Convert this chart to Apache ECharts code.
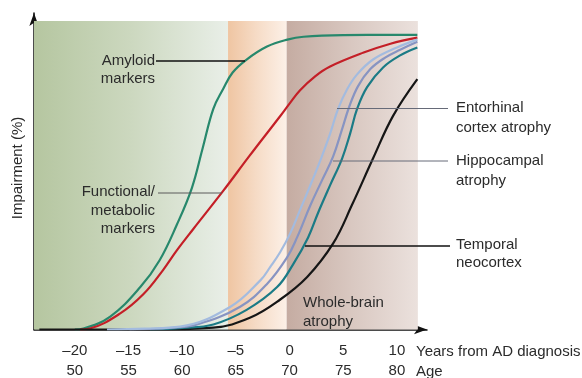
<!DOCTYPE html>
<html>
<head>
<meta charset="utf-8">
<script src="https://cdn.jsdelivr.net/npm/echarts@6.0.0/dist/echarts.min.js"></script>
<style>
  html, body { margin: 0; padding: 0; background: #fff; }
  #chart { width: 582px; height: 378px; }
</style>
</head>
<body>
<div id="chart"></div>
<script>
// years from AD diagnosis, impairment (%)
const amyloid = [[-20, 0], [-19.2, 0.3], [-16.7, 4.1], [-13.9, 13.4], [-12.1, 21.9], [-10.5, 33.1],
  [-9.1, 44.7], [-8.1, 57.2], [-7.1, 69.7], [-6.2, 75.9], [-5.3, 81.2], [-4.0, 85.3],
  [-2.1, 89.4], [-0.2, 91.6], [1.3, 92.5], [5, 93.0], [11.9, 93.1]];
const functional = [[-19.5, 0], [-18.6, 0.3], [-15.8, 5.0], [-13.6, 11.2], [-11.8, 18.7], [-10.5, 25],
  [-9.0, 31.6], [-6.2, 43.7], [-3.7, 55], [-0.9, 67.3], [0.05, 71.6], [0.98, 75.6], [2.38, 80.0],
  [3.78, 83.1], [6.9, 87.5], [9.4, 90.3], [11.9, 92.2]];
const entorhinal = [[-17, 0], [-13.5, 0.3], [-10.2, 0.9], [-5.5, 7.2], [-2.7, 15.6], [-1.81, 19.7],
  [-0.88, 24.4], [0.05, 30.3], [0.98, 37.8], [2.01, 46.2], [2.94, 54.1], [3.78, 61.9],
  [4.52, 69.7], [5.36, 75.9], [6.29, 80.6], [7.78, 85.3], [10.0, 89.1], [11.9, 91.6]];
const hippocampal = [[-14.9, 0], [-11.5, 0.4], [-8.6, 1.6], [-4.6, 7.2], [-2.1, 14.4], [-0.23, 22.8],
  [0.7, 29.1], [1.92, 39.1], [3.03, 47.2], [4.06, 54.7], [4.9, 63.4], [5.55, 70.3],
  [6.38, 76.9], [7.5, 82.2], [8.9, 85.9], [10.3, 88.4], [11.9, 90.9]];
const temporal = [[-13, 0], [-10, 0.5], [-7.1, 1.6], [-4.0, 6.2], [-1.16, 13.4], [0.33, 20.6],
  [1.73, 29.1], [2.66, 36.9], [3.78, 45.6], [4.9, 54.1], [5.64, 61.9], [6.29, 69.7],
  [7.22, 76.6], [8.71, 82.8], [10.3, 86.6], [11.9, 89.1]];
const wholeBrain = [[-23.3, 0], [-13, 0], [-7.1, 0.6], [-3.7, 3.7], [-0.9, 9.4], [1.64, 16.6],
  [4.06, 27.2], [5.82, 39.4], [7.78, 54.1], [9.64, 67.5], [11.9, 79.1]];

const yearTicks = [-20, -15, -10, -5, 0, 5, 10];
const ageTicks = [50, 55, 60, 65, 70, 75, 80];
// shaded stages: preclinical, MCI, dementia
const stageBounds = [-23.8, -5.73, -0.27, 11.95];

const FAMILY = '"Liberation Sans", Arial, sans-serif';
const FONT = '15px ' + FAMILY;
const INK = '#2b2b2b';

function grad(stops) {
  return new echarts.graphic.LinearGradient(0, 0, 1, 0,
    stops.map((c, i) => ({ offset: i / (stops.length - 1), color: c })));
}
function txt(x, y, s, align) {
  return { type: 'text', x: x, y: y, z: 100,
    style: { text: s, fill: INK, font: FONT, textAlign: align || 'left', textVerticalAlign: 'middle' } };
}
function ln(x1, y1, x2, y2, color, w) {
  return { type: 'line', z: 100, shape: { x1: x1, y1: y1, x2: x2, y2: y2 },
    style: { stroke: color, lineWidth: w } };
}
function curve(name, data, color) {
  return { name: name, type: 'line', data: data, showSymbol: false, symbol: 'none',
    smooth: 0.4, z: 3,
    lineStyle: { color: color, width: 2.2 } };
}

const chart = echarts.init(document.getElementById('chart'));
chart.setOption({
  animation: false,
  grid: { left: 34, right: 155, top: 13, bottom: 45 },
  xAxis: {
    type: 'value', min: -23.8, max: 12.8,
    splitLine: { show: false },
    axisTick: { show: false },
    axisLine: { onZero: false, symbol: ['none', 'arrow'], symbolSize: [7, 13],
      lineStyle: { color: '#111', width: 1.5 } },
    axisLabel: {
      customValues: yearTicks, margin: 11,
      formatter: function (v) {
        const i = yearTicks.indexOf(v);
        return '{a|' + String(v).replace('-', '–') + '}\n{a|' + ageTicks[i] + '}';
      },
      rich: { a: { fontSize: 15, fontFamily: FAMILY, color: INK, lineHeight: 20 } }
    }
  },
  yAxis: {
    type: 'value', min: 0, max: 100,
    splitLine: { show: false },
    axisTick: { show: false },
    axisLabel: { show: false },
    axisLine: { show: true, onZero: false, symbol: ['none', 'arrow'], symbolSize: [7, 13],
      lineStyle: { color: '#111', width: 1.5 } }
  },
  series: [
    { type: 'line', data: [], z: 1, silent: true,
      markArea: {
        silent: true,
        data: [
          [{ xAxis: stageBounds[0], yAxis: 0, itemStyle: { color: grad(['#b5c6a0', '#ccd8bf', '#e9efe8']) } },
           { xAxis: stageBounds[1], yAxis: 97.5 }],
          [{ xAxis: stageBounds[1], yAxis: 0, itemStyle: { color: grad(['#efc5a2', '#f6dcc7', '#fcf0e7']) } },
           { xAxis: stageBounds[2], yAxis: 97.5 }],
          [{ xAxis: stageBounds[2], yAxis: 0, itemStyle: { color: grad(['#c5aca2', '#d9c8c1', '#ebe1dd']) } },
           { xAxis: stageBounds[3], yAxis: 97.5 }]
        ]
      }
    },
    curve('Amyloid markers', amyloid, '#27886c'),
    curve('Functional/metabolic markers', functional, '#c41f27'),
    curve('Whole-brain atrophy', wholeBrain, '#161616'),
    curve('Temporal neocortex', temporal, '#1b7b86'),
    curve('Hippocampal atrophy', hippocampal, '#8794c2'),
    curve('Entorhinal cortex atrophy', entorhinal, '#a3bbdf')
  ],
  graphic: [
    { type: 'text', x: 18, y: 168, rotation: Math.PI / 2, z: 100,
      style: { text: 'Impairment (%)', fill: INK, font: FONT, textAlign: 'center', textVerticalAlign: 'middle' } },
    ln(156, 61, 245, 61, '#111', 1.5),
    txt(155, 61, 'Amyloid', 'right'),
    txt(155, 79, 'markers', 'right'),
    ln(158, 193, 222, 193, '#5a5a5a', 1),
    txt(155, 192, 'Functional/', 'right'),
    txt(155, 211, 'metabolic', 'right'),
    txt(155, 229, 'markers', 'right'),
    ln(337, 108.5, 448, 108.5, '#666a78', 1),
    txt(456, 108, 'Entorhinal'),
    txt(456, 128, 'cortex atrophy'),
    ln(333, 161, 448, 161, '#666a78', 1),
    txt(456, 161, 'Hippocampal'),
    txt(456, 181, 'atrophy'),
    ln(305, 246, 450, 246, '#111', 1.5),
    txt(456, 245, 'Temporal'),
    txt(456, 263, 'neocortex'),
    txt(303, 303, 'Whole-brain'),
    txt(303, 322, 'atrophy'),
    txt(416, 352, 'Years from AD diagnosis'),
    txt(416, 372, 'Age')
  ]
});
window.addEventListener('resize', function () { chart.resize(); });
</script>
</body>
</html>
